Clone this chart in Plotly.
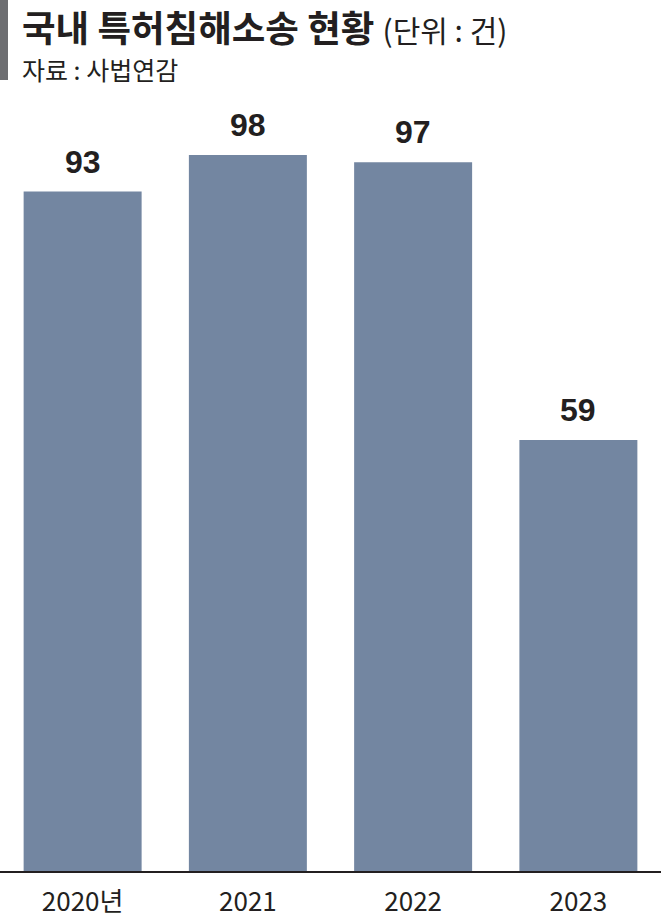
import plotly.graph_objects as go

years = ["2020년", "2021", "2022", "2023"]
cases = [93, 98, 97, 59]

title_main = "국내 특허침해소송 현황"
title_unit = "(단위 : 건)"
source = "자료 : 사법연감"

W, H = 661, 918
top, bottom = 100, 47
plot_h = H - top - bottom
px_per_unit = 716 / 98
ymax = plot_h / px_per_unit

fig = go.Figure()
fig.add_trace(go.Bar(
    x=years, y=cases,
    marker=dict(color="#7386a1", line=dict(width=0)),
    hoverinfo="skip",
))

for i, yv in enumerate(cases):
    fig.add_annotation(
        x=i, y=yv, xref="x", yref="y",
        text=str(yv), showarrow=False,
        yanchor="bottom", yshift=10,
        font=dict(family="Liberation Sans, Arial, sans-serif", size=32, color="#231f20", weight="bold"),
    )

fig.add_annotation(
    xref="paper", yref="paper", x=20 / W, y=1 + (top - 26.5) / plot_h,
    xanchor="left", yanchor="middle",
    text=f"<b>{title_main}</b> <span style='font-size:30px'>{title_unit}</span>",
    showarrow=False,
    font=dict(family="Noto Sans CJK KR", size=36.5, color="#231f20"),
)
fig.add_annotation(
    xref="paper", yref="paper", x=20 / W, y=1 + (top - 69) / plot_h,
    xanchor="left", yanchor="middle",
    text=source, showarrow=False,
    font=dict(family="Noto Sans CJK KR", size=25, color="#231f20"),
)
fig.add_shape(
    type="rect", xref="paper", yref="paper",
    x0=0, x1=8 / W, y0=1 + (top - 80) / plot_h, y1=1 + top / plot_h,
    fillcolor="#6d6e71", line=dict(width=0),
)

fig.update_layout(
    width=W, height=H,
    margin=dict(l=0, r=0, t=top, b=bottom, autoexpand=False),
    paper_bgcolor="white", plot_bgcolor="white",
    bargap=0.286,
    showlegend=False,
    xaxis=dict(
        type="category", automargin=False, range=[-0.5, 3.5],
        showline=True, linecolor="#231f20", linewidth=1.5,
        ticks="", ticklabelstandoff=7,
        tickfont=dict(family="Noto Sans CJK KR, sans-serif", size=26, color="#231f20"),
        showgrid=False, fixedrange=True,
    ),
    yaxis=dict(range=[0, ymax], visible=False, showgrid=False, fixedrange=True, automargin=False),
)

fig.write_html("out.html", config={"displayModeBar": False},
               post_script="document.body.style.margin='0';")
